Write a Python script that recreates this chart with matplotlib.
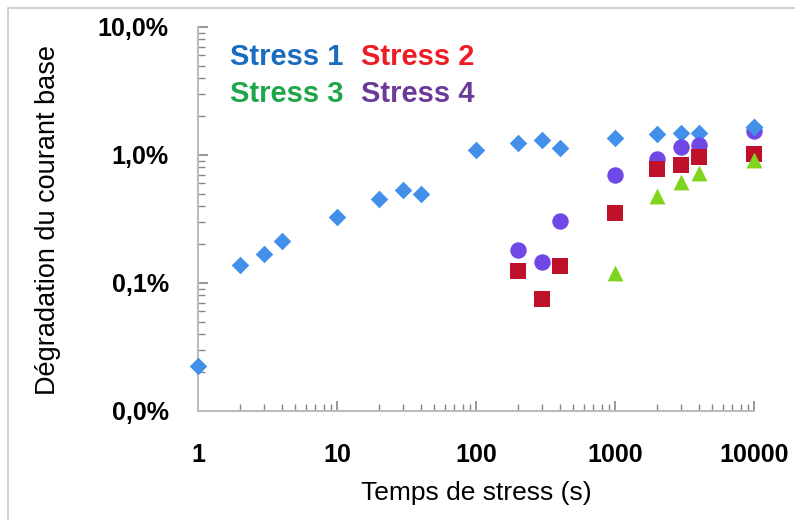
import matplotlib
matplotlib.use("Agg")
import matplotlib.pyplot as plt
from matplotlib.ticker import FuncFormatter, LogLocator, NullFormatter
from matplotlib.patches import Rectangle

# Data (stress time in s, base-current degradation in %)
t1 = [1, 2, 3, 4, 10, 20, 30, 40, 100, 200, 300, 400, 1000, 2000, 3000, 4000, 10000]
d1 = [0.0225, 0.139, 0.169, 0.214, 0.326, 0.45, 0.533, 0.496, 1.10, 1.24, 1.32, 1.14, 1.35, 1.47, 1.48, 1.48, 1.66]
t2 = [200, 300, 400, 1000, 2000, 3000, 4000, 10000]
d2 = [0.123, 0.075, 0.135, 0.352, 0.777, 0.83, 0.96, 1.01]
t3 = [1000, 2000, 3000, 4000, 10000]
d3 = [0.119, 0.478, 0.615, 0.72, 0.914]
t4 = [200, 300, 400, 1000, 2000, 3000, 4000, 10000]
d4 = [0.181, 0.145, 0.303, 0.70, 0.935, 1.155, 1.20, 1.55]

series_names = ["Stress 1", "Stress 2", "Stress 3", "Stress 4"]
text_colors = ["#1a6cc0", "#ee1c25", "#1fa64a", "#6b3a98"]
marker_colors = ["#4290ea", "#c0112b", "#7fd41c", "#7048e6"]

plt.rcParams["font.family"] = ["Liberation Sans", "DejaVu Sans"]

fig = plt.figure(figsize=(7.95, 5.2), dpi=100)
ax = fig.add_axes([198 / 795, 1 - 411 / 520, (754 - 198) / 795, (411 - 27) / 520])

kw = dict(linewidths=0, clip_on=False)
ax.scatter(t1, d1, marker="D", s=80, color=marker_colors[0], zorder=3, **kw)
ax.scatter(t4, d4, marker="o", s=140, color=marker_colors[3], zorder=4, **kw)
ax.scatter(t2, d2, marker="s", s=135, color=marker_colors[1], zorder=5, **kw)
ax.scatter(t3, d3, marker="^", s=130, color=marker_colors[2], zorder=6, **kw)
# blue diamond on top at the last point, as in the reference
ax.scatter(t1[-1:], d1[-1:], marker="D", s=80, color=marker_colors[0], zorder=7, **kw)

ax.set_xscale("log")
ax.set_yscale("log")
ax.set_xlim(1, 10000)
ax.set_ylim(0.01, 10)

ax.xaxis.set_major_locator(LogLocator(base=10, numticks=10))
ax.yaxis.set_major_locator(LogLocator(base=10, numticks=10))
ax.xaxis.set_minor_locator(LogLocator(base=10, subs=range(2, 10), numticks=20))
ax.yaxis.set_minor_locator(LogLocator(base=10, subs=range(2, 10), numticks=20))
ax.xaxis.set_minor_formatter(NullFormatter())
ax.yaxis.set_minor_formatter(NullFormatter())
ax.xaxis.set_major_formatter(FuncFormatter(lambda v, p: f"{int(round(v))}"))
ax.yaxis.set_major_formatter(FuncFormatter(lambda v, p: f"{v:.1f}%".replace(".", ",")))

for s in ["top", "right"]:
    ax.spines[s].set_visible(False)
for s in ["left", "bottom"]:
    ax.spines[s].set_color("#b8bdbd")
    ax.spines[s].set_linewidth(1.5)

ax.tick_params(which="major", direction="in", length=7, width=1.2, color="#808888",
               labelsize=18)
ax.tick_params(which="major", axis="y", pad=21)
ax.tick_params(which="major", axis="x", pad=23)
ax.tick_params(which="minor", direction="in", length=5, width=1.0, color="#808888")
for lab in ax.get_xticklabels() + ax.get_yticklabels():
    lab.set_fontweight("bold")

ax.set_xlabel("Temps de stress (s)", fontsize=19)
ax.set_ylabel("Dégradation du courant base", fontsize=19.5)
ax.xaxis.set_label_coords(0.5, (411 - 481) / 384)
ax.yaxis.set_label_coords((61 - 198) / 556, (411 - 220) / 384)

# coloured legend text
fs = 21
rows = [57, 94]
cols = [230, 361]
for i, name in enumerate(series_names):
    fig.text(cols[i % 2] / 795, 1 - rows[i // 2] / 520, name, color=text_colors[i],
             fontsize=fs, fontweight="bold", va="center", ha="left")

# light frame around the chart
fig.patches.append(Rectangle((8 / 795, -0.05), 1.1, 1 - 8 / 520 + 0.05, transform=fig.transFigure,
                             fill=False, edgecolor="#c8c8c8", linewidth=1.2))

fig.savefig("out.png", dpi=100)
